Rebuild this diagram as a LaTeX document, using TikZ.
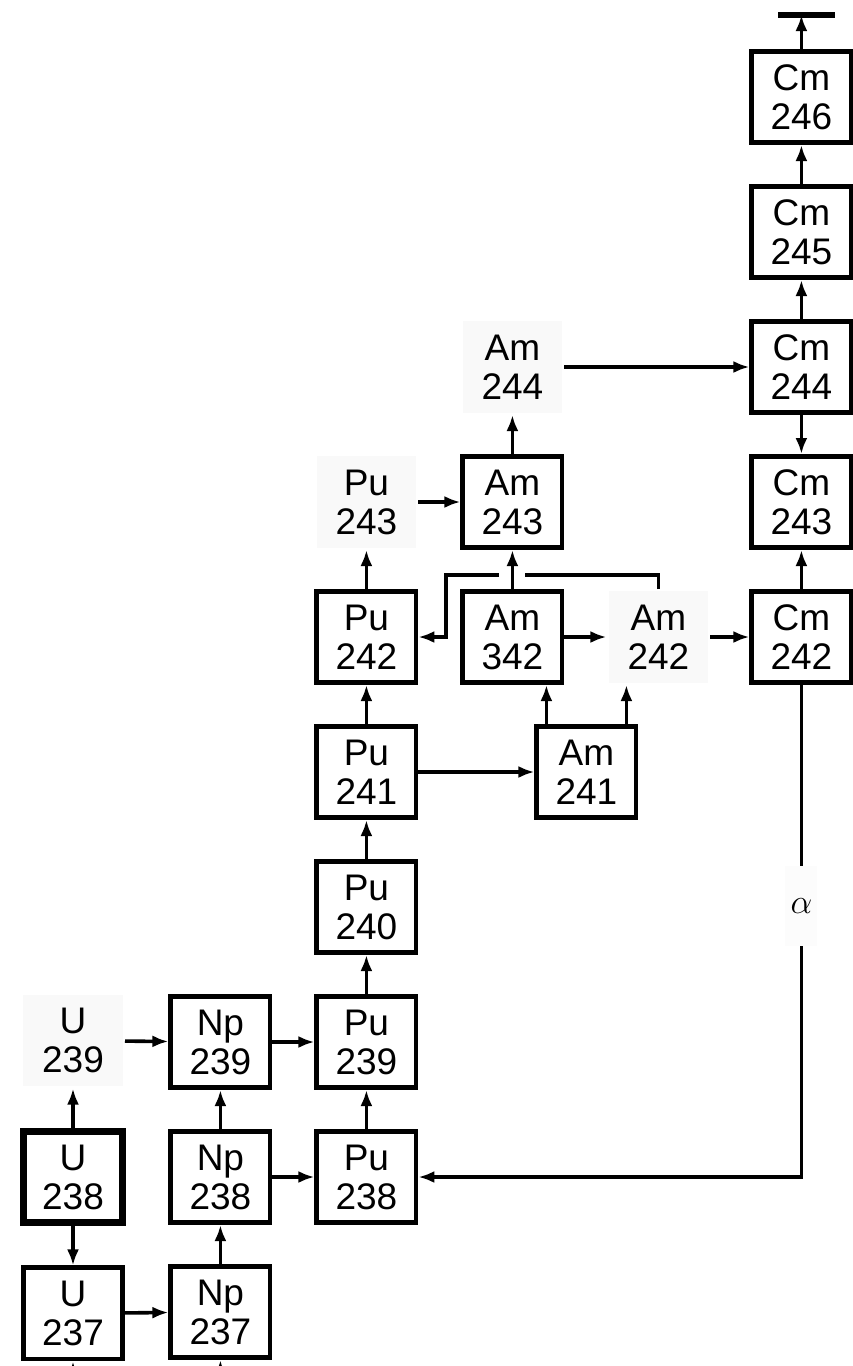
\documentclass[tikz,border=0pt]{standalone}
\usepackage{fontspec}
\setmainfont{Liberation Sans}
\usetikzlibrary{positioning, arrows.meta, calc}
\tikzset{
  nuc/.style={
    draw, line width=2.4pt, fill=white, text=black,
    font=\fontsize{18.5}{19.5}\selectfont,
    minimum width=49.6pt, minimum height=45.6pt, align=center, inner sep=0pt
  },
  nucbold/.style={nuc, line width=3.8pt},
  nucfree/.style={nuc, draw=none, fill=gray!5},
  arrow/.style={-{Latex[length=8pt,width=6pt]}, line width=1.8pt},
  alphalbl/.style={fill=gray!2, inner sep=0pt, minimum width=16pt, minimum height=40pt,
    font=\fontsize{18}{20}\selectfont}
}

\begin{document}
\begin{tikzpicture}[node distance=19.5pt and 21pt]
  \useasboundingbox (0,0) rectangle (426pt,-683pt);

  % uranium / neptunium
  \node[nucbold] (u238) at (36.5pt,-588.5pt) {U\\238};
  \node[nucfree, above=of u238] (u239) {U\\239};
  \node[nuc, below=of u238] (u237) {U\\237};
  \node[nuc, right=of u238] (np238) {Np\\238};
  \node[nuc, above=of np238] (np239) {Np\\239};
  \node[nuc, below=of np238] (np237) {Np\\237};

  % plutonium
  \node[nuc, right=of np238] (pu238) {Pu\\238};
  \node[nuc, above=of pu238] (pu239) {Pu\\239};
  \node[nuc, above=of pu239] (pu240) {Pu\\240};
  \node[nuc, above=of pu240] (pu241) {Pu\\241};
  \node[nuc, above=of pu241] (pu242) {Pu\\242};
  \node[nucfree, above=of pu242] (pu243) {Pu\\243};

  % americium
  \node[nuc, right=58pt of pu241] (am241) {Am\\241};
  \node[nuc, right=of pu242] (am342) {Am\\342};
  \node[nucfree, right=of am342] (am242) {Am\\242};
  \node[nuc, right=of pu243] (am243) {Am\\243};
  \node[nucfree, above=of am243] (am244) {Am\\244};

  % curium
  \node[nuc, right=19.5pt of am242] (cm242) {Cm\\242};
  \node[nuc, above=of cm242] (cm243) {Cm\\243};
  \node[nuc, above=of cm243] (cm244) {Cm\\244};
  \node[nuc, above=of cm244] (cm245) {Cm\\245};
  \node[nuc, above=of cm245] (cm246) {Cm\\246};

  \coordinate[above=17pt of cm246] (cmtop);
  \coordinate[below=20pt of u237] (u237in);
  \coordinate[below=20pt of np237] (np237in);
  \coordinate[above=7pt of am342] (brk);
  \coordinate (brkl) at ($(pu242.east)!0.65!(am342.west)$);

  % chains
  \draw[arrow] (u237in) -- (u237);
  \draw[arrow] (np237in) -- (np237);
  \draw[arrow] (u238) -- (u239);
  \draw[arrow] (u238) -- (u237);
  \draw[arrow] (u239) -- (np239);
  \draw[arrow] (u237) -- (np237);
  \draw[arrow] (np237) -- (np238);
  \draw[arrow] (np238) -- (np239);
  \draw[arrow] (np238) -- (pu238);
  \draw[arrow] (np239) -- (pu239);
  \draw[arrow] (pu238) -- (pu239);
  \draw[arrow] (pu239) -- (pu240);
  \draw[arrow] (pu240) -- (pu241);
  \draw[arrow] (pu241) -- (pu242);
  \draw[arrow] (pu242) -- (pu243);
  \draw[arrow] (pu243) -- (am243);
  \draw[arrow] (am243) -- (am244);
  \draw[arrow] (am244) -- (cm244);
  \draw[arrow] (pu241) -- (am241);
  \draw[arrow] ([xshift=-20pt]am241.north) -- ([xshift=-20pt]am241.north |- am342.south);
  \draw[arrow] ([xshift=20pt]am241.north) -- ([xshift=20pt]am241.north |- am242.south);
  \draw[arrow] (am342) -- (am242);
  \draw[arrow] (am242) -- (cm242);

  % branch back to Pu 242, crossing under the Am 342 line
  \draw[arrow] (am242.north) |- (brk) -| (brkl) -- (pu242.east);
  \draw[white, line width=13pt] (am342) -- (am243);
  \draw[arrow] (am342) -- (am243);

  \draw[arrow] (cm242) -- (cm243);
  \draw[arrow] (cm244) -- (cm243);
  \draw[arrow] (cm244) -- (cm245);
  \draw[arrow] (cm245) -- (cm246);
  \draw[arrow] (cm246) -- (cmtop);
  \draw[line width=3pt] ([xshift=-11.5pt]cmtop) -- ([xshift=17pt]cmtop);

  % alpha decay
  \draw[arrow] (cm242) -- node[alphalbl, pos=0.45] {$\alpha$} (cm242 |- pu238) -- (pu238);
\end{tikzpicture}
\end{document}
